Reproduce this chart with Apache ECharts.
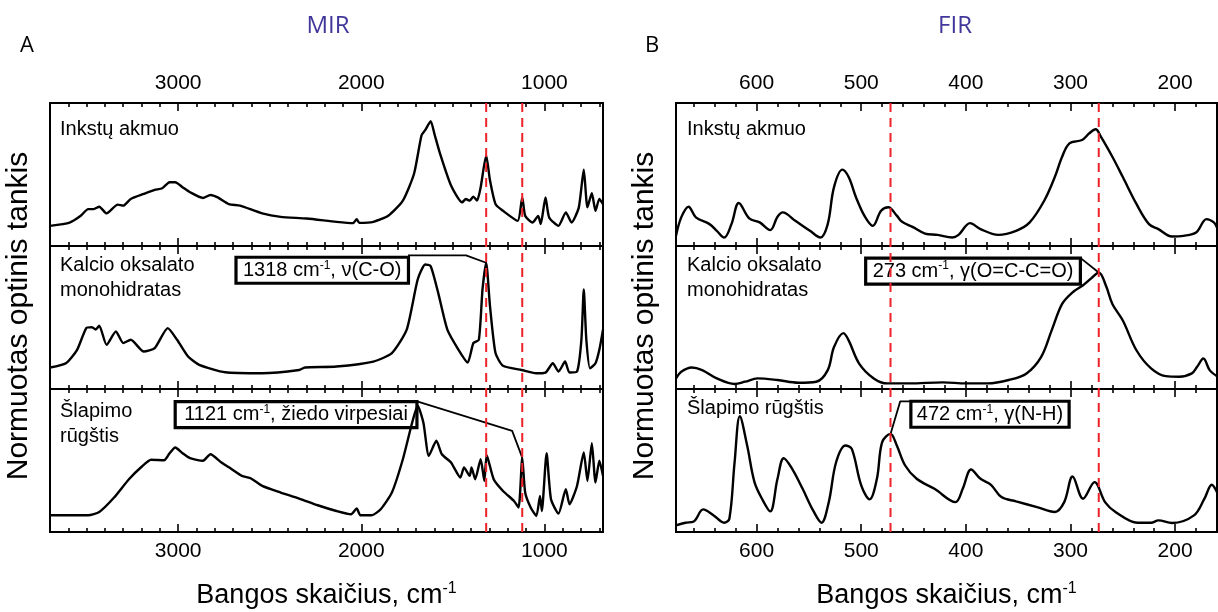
<!DOCTYPE html>
<html>
<head>
<meta charset="utf-8">
<script src="https://cdn.jsdelivr.net/npm/echarts@6/dist/echarts.min.js"></script>
<style>
  html, body { margin: 0; padding: 0; background: #fff; }
  #chart { width: 1218px; height: 612px; }
</style>
</head>
<body>
<div id="chart"></div>
<script>
// ---- Spectra: [wavenumber cm-1, normalised optical density (0-100 within its row)] ----
const mirKidneyStone = [
  [3700,14.1],[3593,16.4],[3532,21.1],[3492,25.8],[3461,25.8],[3431,27.5],[3391,22.8],[3330,28.9],
  [3300,28.2],[3259,32.9],[3188,36.4],[3128,39.2],[3087,40.4],[3047,44.6],[3016,44.6],[2976,41.1],
  [2935,37.6],[2865,33.6],[2824,35.7],[2784,34.0],[2723,29.3],[2662,28.2],[2541,22.8],[2440,20.4],
  [2298,19.2],[2136,16.9],[2045,16.0],[2025,18.8],[2011,16.2],[1934,16.9],[1853,21.1],[1773,31.7],
  [1712,50.5],[1671,77.5],[1651,81.0],[1621,87.3],[1601,78.6],[1570,64.6],[1510,42.3],[1449,30.5],
  [1429,32.9],[1408,31.7],[1388,34.5],[1368,31.7],[1348,41.1],[1318,63.4],[1297,45.8],[1267,29.3],
  [1226,24.6],[1146,17.6],[1121,34.0],[1105,21.1],[1065,16.4],[1034,21.1],[1020,15.3],[994,34.0],
  [974,20.0],[923,14.1],[883,23.5],[852,16.4],[812,27.0],[785,53.3],[765,27.0],[741,36.9],
  [721,24.6],[700,32.9],[680,29.3]
];
const mirCalciumOxalate = [
  [3700,15.0],[3613,18.0],[3552,27.4],[3502,42.6],[3471,43.3],[3451,41.5],[3431,44.3],[3391,30.9],
  [3340,40.3],[3300,32.1],[3259,34.4],[3188,26.2],[3128,28.6],[3057,42.6],[3006,34.4],[2946,22.7],
  [2885,16.9],[2743,11.7],[2541,11.0],[2339,13.3],[2308,15.0],[2136,15.7],[1934,19.2],[1833,25.1],
  [1752,41.5],[1692,76.6],[1651,87.1],[1621,85.9],[1580,67.2],[1530,41.5],[1469,27.4],[1419,18.5],
  [1388,32.1],[1358,34.4],[1338,69.6],[1318,88.3],[1297,57.8],[1267,25.1],[1226,16.2],[1125,13.3],
  [1045,11.0],[994,11.5],[954,18.0],[923,12.2],[887,19.2],[863,11.5],[822,12.2],[798,34.4],
  [785,69.6],[771,34.4],[751,14.5],[721,18.0],[700,27.4],[680,41.5]
];
const mirUricAcid = [
  [3700,11.7],[3492,11.7],[3431,14.0],[3350,24.1],[3269,36.9],[3198,45.8],[3148,50.5],[3077,50.2],
  [3047,55.1],[3016,59.1],[2976,55.1],[2935,51.6],[2865,49.8],[2824,54.4],[2764,48.6],[2713,44.4],
  [2652,39.3],[2602,37.4],[2541,32.2],[2440,27.6],[2339,23.4],[2238,18.7],[2136,14.7],[2056,12.4],
  [2025,16.4],[2005,11.7],[1944,11.7],[1894,15.9],[1833,27.6],[1773,50.9],[1722,76.6],[1692,88.3],
  [1661,76.6],[1631,53.3],[1590,63.8],[1560,54.4],[1510,48.6],[1459,38.1],[1439,45.1],[1408,39.3],
  [1398,45.1],[1378,36.9],[1348,50.9],[1328,35.7],[1315,53.7],[1277,36.9],[1226,28.7],[1166,21.7],
  [1141,17.1],[1121,52.0],[1105,27.6],[1075,17.1],[1044,11.2],[1024,25.2],[1014,14.7],[988,55.1],
  [964,22.9],[923,12.9],[883,29.9],[863,19.4],[822,32.2],[785,55.6],[765,35.7],[741,62.1],
  [721,34.6],[700,49.8],[680,39.3]
];
const firKidneyStone = [
  [677,7.1],[672,20.0],[665,27.5],[658,20.0],[645,15.3],[638,10.6],[631,5.9],[624,15.3],
  [617,30.1],[607,19.3],[597,16.5],[587,11.1],[580,20.5],[575,23.5],[563,17.6],[549,10.6],
  [539,5.9],[532,15.3],[526,41.2],[518,53.4],[512,48.2],[505,34.1],[497,21.2],[489,14.1],
  [481,24.7],[474,27.1],[466,21.2],[461,16.9],[451,13.4],[439,8.7],[427,7.8],[413,5.9],
  [407,7.8],[396,16.0],[386,11.8],[369,7.8],[352,10.6],[339,16.5],[325,31.8],[315,48.2],
  [308,62.4],[301,71.8],[289,74.1],[282,78.8],[276,81.6],[271,76.5],[260,62.4],[250,48.2],
  [237,29.4],[225,15.3],[216,11.8],[203,6.6],[192,7.1],[180,9.4],[170,18.8],[163,16.5],[160,12.9]
];
const firCalciumOxalate = [
  [677,7.4],[672,12.0],[662,15.0],[652,13.2],[638,7.4],[621,3.5],[611,5.1],[599,7.4],
  [580,6.3],[560,4.4],[543,5.1],[532,13.2],[526,29.4],[517,39.1],[512,34.0],[502,17.8],
  [488,7.4],[475,3.9],[454,3.9],[422,4.6],[400,3.9],[379,3.9],[359,6.3],[342,10.9],
  [328,22.5],[318,41.0],[308,59.5],[298,67.6],[288,72.5],[280,77.5],[273,81.5],[266,72.0],
  [260,59.5],[250,47.9],[237,27.1],[223,14.4],[209,9.0],[196,8.6],[184,10.9],[179,15.5],
  [173,21.3],[167,13.2],[160,9.0]
];
const firUricAcid = [
  [677,4.7],[668,6.5],[660,7.4],[651,15.8],[641,11.6],[631,6.5],[626,9.3],[621,48.8],
  [616,80.9],[609,60.5],[602,34.9],[594,22.1],[587,14.4],[580,37.2],[574,51.6],[566,44.2],
  [556,30.2],[546,15.1],[538,6.5],[531,20.9],[524,48.8],[515,60.5],[509,58.1],[500,32.6],
  [492,22.8],[485,37.2],[480,62.8],[472,68.6],[466,60.5],[458,46.5],[447,37.2],[430,30.2],
  [410,20.9],[403,30.2],[395,43.7],[386,37.2],[376,33.0],[366,24.4],[352,21.4],[332,17.4],
  [315,14.0],[306,20.9],[298,38.8],[288,23.3],[277,34.9],[267,20.9],[257,14.0],[236,6.5],
  [223,6.5],[216,8.1],[203,6.3],[182,11.6],[172,23.3],[165,33.0],[160,27.9]
];

// ---- Axis ticks, marked bands, sample names ----
const mirTickLabels = [3000, 2000, 1000];
const firTickLabels = [600, 500, 400, 300, 200];
const mirBands = [1318, 1121];
const firBands = [472, 273];
const mirSampleNames = ['Inkstų akmuo', 'Kalcio oksalato\nmonohidratas', 'Šlapimo\nrūgštis'];
const firSampleNames = ['Inkstų akmuo', 'Kalcio oksalato\nmonohidratas', 'Šlapimo rūgštis'];

// ---- Band assignments (box anchor and leader path in data units) ----
const assignments = [
  { panel: 0, row: 1, band: 1318, parts: ['1318 cm', '-1', ', ν(C-O)'],
    box: [2684, 92.1], leader: [[1745, 93.5], [1428, 93.5]], pad: 7 },
  { panel: 0, row: 2, band: 1121, parts: ['1121 cm', '-1', ', žiedo virpesiai'],
    box: [3016, 91.1], leader: [[1691, 91.1], [1176, 70.7]], pad: 9 },
  { panel: 1, row: 1, band: 273, parts: ['273 cm', '-1', ', γ(O=C-C=O)'],
    box: [495.7, 91.5], leader: [[290.3, 91.5]], pad: 7 },
  { panel: 1, row: 2, band: 472, parts: ['472 cm', '-1', ', γ(N-H)'],
    box: [452.5, 91.4], leader: [[452.5, 91.4], [462.7, 91.4]], pad: 6 }
];

const FONT = '"Liberation Sans", Arial, sans-serif';
const ROW_TOPS = [103, 246, 389];
const ROW_H = 143;

const panels = [
  { left: 50, width: 553, min: 680, max: 3700, major: mirTickLabels, minorStep: 100,
    spectra: [mirKidneyStone, mirCalciumOxalate, mirUricAcid], names: mirSampleNames,
    bands: mirBands, smooth: 0.2, labelX: 60 },
  { left: 676, width: 541, min: 160, max: 677, major: firTickLabels, minorStep: 20,
    spectra: [firKidneyStone, firCalciumOxalate, firUricAcid], names: firSampleNames,
    bands: firBands, smooth: 0.35, labelX: 687 }
];

function minorValues(p) {
  const out = [];
  for (let v = Math.ceil(p.min / p.minorStep) * p.minorStep; v < p.max; v += p.minorStep) {
    if (v > p.min && p.major.indexOf(v) < 0) out.push(v);
  }
  return out;
}

const grids = [], xAxes = [], yAxes = [], series = [];
const rowAxis = []; // rowAxis[panel][row] = {x, y}

panels.forEach((p, pi) => {
  rowAxis[pi] = [];
  const minors = minorValues(p);
  for (let r = 0; r < 3; r++) {
    const g = grids.length;
    grids.push({ left: p.left, top: ROW_TOPS[r], width: p.width, height: ROW_H,
      show: true, borderColor: '#000', borderWidth: 2, backgroundColor: 'transparent' });
    const firstX = xAxes.length;
    ['bottom', 'top'].forEach(pos => {
      ['major', 'minor'].forEach(kind => {
        const showLabel = kind === 'major' && ((pos === 'top' && r === 0) || (pos === 'bottom' && r === 2));
        xAxes.push({
          type: 'value', gridIndex: g, position: pos, min: p.min, max: p.max, inverse: true,
          axisLine: { show: false }, splitLine: { show: false },
          axisTick: { show: true, inside: true, length: kind === 'major' ? 8 : 4,
            customValues: kind === 'major' ? p.major : minors,
            lineStyle: { color: '#000', width: 1.6 } },
          axisLabel: { show: showLabel, customValues: p.major, fontSize: 21,
            fontFamily: FONT, color: '#000', margin: 9, formatter: v => String(v) }
        });
      });
    });
    const yi = yAxes.length;
    yAxes.push({ type: 'value', gridIndex: g, min: 0, max: 100, show: false });
    rowAxis[pi][r] = { x: firstX, y: yi };
    series.push({
      type: 'line', xAxisIndex: firstX, yAxisIndex: yi, data: p.spectra[r],
      smooth: p.smooth, symbol: 'none', silent: true, z: 3,
      lineStyle: { color: '#000', width: 2.4 }
    });
  }
  // full-height overlay for the dashed band markers
  const og = grids.length;
  grids.push({ left: p.left, top: ROW_TOPS[0], width: p.width, height: ROW_H * 3, show: false });
  const ox = xAxes.length;
  xAxes.push({ type: 'value', gridIndex: og, min: p.min, max: p.max, inverse: true, show: false });
  const oy = yAxes.length;
  yAxes.push({ type: 'value', gridIndex: og, min: 0, max: 1, show: false });
  p.bands.forEach(b => {
    series.push({
      type: 'line', xAxisIndex: ox, yAxisIndex: oy, data: [[b, 0], [b, 1]],
      symbol: 'none', silent: true, z: 10,
      lineStyle: { color: '#ee2229', width: 2, type: [9, 6] }
    });
  });
});

const boxRich = {
  a: { fontSize: 20, fontFamily: FONT, color: '#000', lineHeight: 22 },
  s: { fontSize: 12, fontFamily: FONT, color: '#000', lineHeight: 12, verticalAlign: 'top' }
};

assignments.forEach(a => {
  const ax = rowAxis[a.panel][a.row];
  const spectrum = panels[a.panel].spectra[a.row];
  const peak = spectrum.find(d => d[0] === a.band);
  series.push({
    type: 'line', xAxisIndex: ax.x, yAxisIndex: ax.y, data: a.leader.concat([peak]),
    symbol: 'none', silent: true, z: 6, lineStyle: { color: '#000', width: 1.8 }
  });
  series.push({
    type: 'scatter', xAxisIndex: ax.x, yAxisIndex: ax.y, data: [a.box],
    symbolSize: 0.1, silent: true, z: 7,
    itemStyle: { color: 'rgba(0,0,0,0)', opacity: 1 },
    label: {
      show: true, position: [0, 0], opacity: 1,
      formatter: '{a|' + a.parts[0] + '}{s|' + a.parts[1] + '}{a|' + a.parts[2] + '}',
      rich: boxRich, backgroundColor: 'rgba(255,255,255,0)', borderColor: '#000', borderWidth: 1.6,
      padding: [2, a.pad, 2, a.pad]
    }
  });
});

// ---- Titles and row captions ----
const graphic = [];
function txt(x, y, text, font, extra) {
  graphic.push({ type: 'text', x: x, y: y, silent: true,
    style: Object.assign({ text: text, font: font, fill: '#000', align: 'center', verticalAlign: 'middle' }, extra || {}) });
}
txt(27, 46, 'A', '22px "Open Sans", sans-serif');
txt(652, 46, 'B', '22px "Open Sans", sans-serif');
txt(328, 26, 'MIR', '24px "Open Sans", sans-serif', { fill: '#41379a' });
txt(955, 26, 'FIR', '24px "Open Sans", sans-serif', { fill: '#41379a' });

const captionTops = [[116.5, 252.5, 398.5], [116.5, 252.5, 395.5]];
panels.forEach((p, pi) => {
  p.names.forEach((n, r) => {
    txt(p.labelX, captionTops[pi][r], n, '20px ' + FONT, { align: 'left', verticalAlign: 'top', lineHeight: 25 });
  });
  const cx = p.left + p.width / 2;
  graphic.push({ type: 'text', x: cx, y: 596, silent: true,
    style: { text: '{a|Bangos skaičius, cm}{s|-1}', align: 'center', verticalAlign: 'middle',
      rich: { a: { fontSize: 27, fontFamily: FONT, fill: '#000', lineHeight: 30 },
              s: { fontSize: 16, fontFamily: FONT, fill: '#000', lineHeight: 16, verticalAlign: 'top' } } } });
  graphic.push({ type: 'text', x: pi === 0 ? 19 : 645, y: 316, rotation: Math.PI / 2, silent: true,
    style: { text: 'Normuotas optinis tankis', font: '30px ' + FONT, fill: '#000',
      align: 'center', verticalAlign: 'middle' } });
});

const chart = echarts.init(document.getElementById('chart'), null, { renderer: 'canvas' });
chart.setOption({
  animation: false,
  backgroundColor: '#fff',
  grid: grids,
  xAxis: xAxes,
  yAxis: yAxes,
  series: series,
  graphic: graphic
});
</script>
</body>
</html>
